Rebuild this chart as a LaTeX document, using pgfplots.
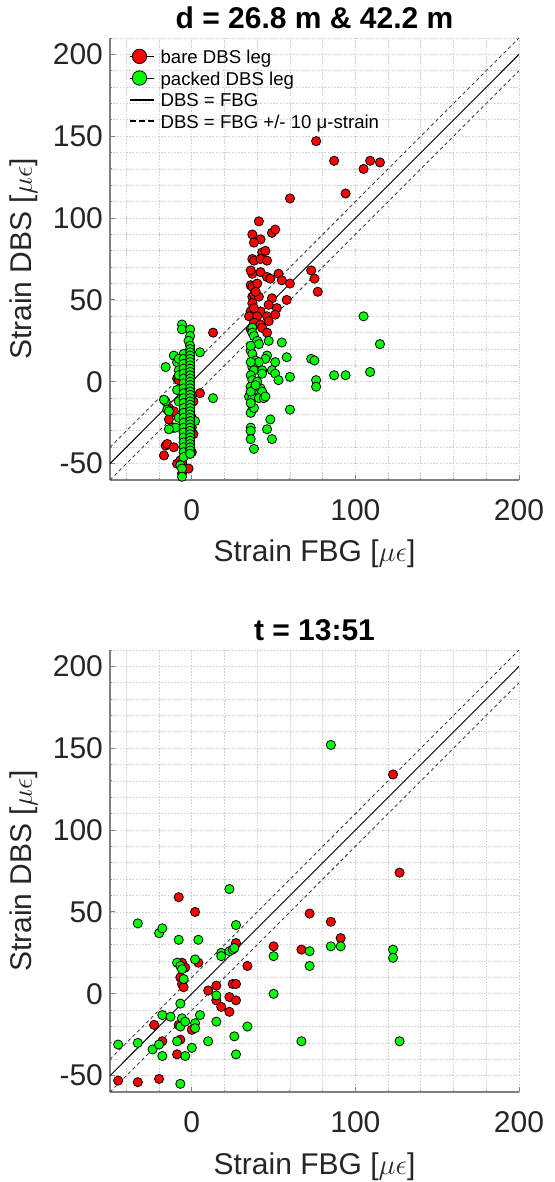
\documentclass[border=0pt]{standalone}
\usepackage{fontspec}
\setmainfont{Liberation Sans}
\usepackage{pgfplots}
\pgfplotsset{compat=1.18}
\definecolor{mred}{rgb}{1,0,0}
\definecolor{mgreen}{rgb}{0,1,0}
\definecolor{axgray}{gray}{0.5}
\definecolor{txt}{gray}{0.15}

\pgfplotsset{
  strainax/.style={
    scale only axis, width=204.5pt, height=221pt,
    xmin=-50, xmax=200, ymin=-60, ymax=210,
    xtick={0,100,200}, ytick={-50,0,50,100,150,200},
    minor xtick={-40,-20,...,200}, minor ytick={-60,-50,...,210},
    grid=both,
    major grid style={gray!38, dash pattern=on 0.8pt off 0.8pt, line width=0.4pt},
    minor grid style={gray!38, dash pattern=on 0.8pt off 0.8pt, line width=0.4pt},
    axis x line*=bottom, axis y line*=left,
    axis line style={-, axgray, line width=0.6pt},
    tick align=inside, major tick length=2.5pt, minor tick length=1.2pt,
    tick style={axgray, line width=0.5pt},
    /pgf/number format/assume math mode=true,
    ticklabel style={font=\fontsize{15}{15}\selectfont, text=txt},
    xticklabel style={yshift=-6pt},
    label style={font=\fontsize{15}{15}\selectfont, text=txt},
    xlabel style={at={(axis description cs:0.5,-0.1855)}, anchor=base},
    ylabel style={at={(axis description cs:-0.1907,0.5)}, anchor=base},
    every axis title shift=0pt,
    title style={at={(axis description cs:0.5,1)}, anchor=base, yshift=4.7pt,
      font=\bfseries\fontsize{15}{15}\selectfont},
    xlabel={Strain FBG [$\mu\epsilon$]},
    ylabel={Strain DBS [$\mu\epsilon$]},
  },
  bare/.style={only marks, mark=*, mark size=2.3pt, draw=black, fill=mred, line width=0.4pt, forget plot},
  packed/.style={only marks, mark=*, mark size=2.3pt, draw=black, fill=mgreen, line width=0.4pt, forget plot},
  oneone/.style={black, line width=0.45pt, forget plot},
  tenband/.style={black!75, line width=0.45pt, dash pattern=on 1.7pt off 1.5pt, forget plot},
  legmark/.style={legend image code/.code={\path (0pt,0pt) -- (12pt,0pt); \draw[##1] plot coordinates {(5pt,0pt)};}},
  legline/.style={legend image code/.code={\draw[##1] (0pt,0pt) -- (12pt,0pt);}},
}

\begin{document}
\begin{tikzpicture}
\useasboundingbox (0,0) rectangle (277.5pt,-591pt);

% ---- top: both depths ----
\begin{axis}[strainax, at={(55pt,-240pt)}, anchor=south west,
  title={d = 26.8 m \& 42.2 m},
  legend style={at={(axis description cs:0,1)}, anchor=north west,
    draw=none, fill=none, inner xsep=0pt, inner ysep=0pt,
    xshift=9pt, yshift=-4.1pt, row sep=1pt,
    font=\fontsize{9.3}{10}\selectfont,
    nodes={inner sep=0pt, text height=8.5pt, text depth=1.3pt},
    /tikz/every odd column/.append style={column sep=3pt}},
  legend cell align=left,
]
\addplot[bare] coordinates {
  (13,30)(5,-7)(-16,-39)(-15,-38)(-11,-40)(-17,-45)(-9,-50)(-6,-49)(-6,-56)
  (-1,-42)(-14,-16)(-14,-23)(-1,-19)(0,-22)(-9,2)(-8,1)(1,-32)(-1,-38)
  (0,-43)(-1,-44)(-7,-48)(-6,-50)(-11,-18)(-5,-10)(-2,-5)(0,-28)(-3,-35)
  (1,-12)(-4,-25)(-2,-53)(-5,-20)(0,-8)
  (60,112)(41,98)(37,90)(42,87)(49,91)(51,93)(43,79)(45,80)(37,75)(38,74)
  (42,75)(46,74)(37,66)(42,67)(46,64)(48,63)(53,66)(55,62)(60,60)(36,59)
  (37,58)(40,60)(37,52)(38,53)(41,52)(49,51)(58,50)(37,48)(47,47)(52,45)
  (36,43)(37,41)(42,43)(51,41)(35,40)(40,40)(46,40)(47,37)(38,36)(42,35)
  (43,33)(46,30)(36,32)(38,45)(39,55)(36,68)(38,85)
  (76,147)(87,135)(105,130)(109,135)(115,134)(94,115)(73,68)(75,63)(77,55)
};
\addplot[packed] coordinates {
  (-6,35)(-6,32)(-1,32)(-1,28)(-2,25)(-1,22)(-11,16)(-5,17)(5,18)(-16,9)
  (-9,12)(-8,7)(13,-10)(-16,-12)(-15,-17)(-11,-28)(-12,-28)(-10,-28)(2,-24)
  (-7,-51)(-6,-53)(-6,-58)(-17,-11)(-14,-18)(-14,-29)
  (-8,14)(-8,4)(-3,10)(-3,-2)(-8,-12)(-3,-15)(-8,-22)(-3,-28)(-4,-33)(-9,-5)(-3,5)
  (-5,14)(-5,11)(-5,8)(-5,5)(-5,2)(-5,-1)(-5,-4)(-5,-7)(-5,-10)(-5,-13)(-5,-16)
  (-5,-19)(-5,-22)(-5,-25)(-5,-28)(-5,-31)(-5,-34)(-5,-37)(-5,-40)(-5,-43)(-5,-46)
  (-1,20)(-1,18)(-1,16)(-1,14)(-1,12)(-1,10)(-1,8)(-1,6)(-1,4)(-1,2)(-1,0)
  (-1,-2)(-1,-4)(-1,-6)(-1,-8)(-1,-10)(-1,-12)(-1,-14)(-1,-16)(-1,-18)(-1,-20)
  (-1,-22)(-1,-24)(-1,-26)(-1,-28)(-1,-30)(-1,-32)(-1,-34)(-1,-36)(-1,-38)
  (-1,-40)(-1,-42)(-1,-44)
  (37,33)(37,30)(38,28)(40,25)(41,23)(47,25)(55,24)(36,19)(37,17)(46,16)
  (45,14)(39,13)(41,12)(51,12)(58,15)(37,9)(38,7)(43,7)(49,7)(51,5)(53,1)
  (36,4)(37,1)(43,5)(60,3)(36,-3)(38,-5)(42,-4)(43,-6)(35,-9)(37,-10)(41,-10)
  (44,-10)(45,-9)(37,-17)(36,-19)(38,-16)(60,-17)(48,-23)(36,-28)(36,-30)
  (46,-29)(36,-35)(49,-35)(38,-41)(36,22)(36,12)(36,-6)(36,-13)(40,0)(39,-2)
  (105,40)(115,23)(109,6)(73,14)(75,13)(87,4)(94,4)(76,1)(76,-3)
};
\addplot[oneone] coordinates {(-50,-50)(200,200)};
\addplot[tenband] coordinates {(-50,-40)(200,210)};
\addplot[tenband] coordinates {(-50,-60)(200,190)};
% legend entries
\addlegendimage{only marks, mark=*, mark size=3.6pt, draw=black, fill=mred, line width=0.4pt, legmark}
\addlegendentry{bare DBS leg}
\addlegendimage{only marks, mark=*, mark size=3.6pt, draw=black, fill=mgreen, line width=0.4pt, legmark}
\addlegendentry{packed DBS leg}
\addlegendimage{black, line width=1.1pt, legline}
\addlegendentry{DBS = FBG}
\addlegendimage{black, line width=1.1pt, dash pattern=on 3pt off 1.5pt, legline}
\addlegendentry{DBS = FBG +/- 10 μ-strain}
\end{axis}

% ---- bottom: one time step ----
\begin{axis}[strainax, at={(55pt,-546pt)}, anchor=south west,
  title={t = 13:51},
]
\addplot[bare] coordinates {
  (-8,59)(2,50)(27,31)(50,29)(67,27)(-6,19)(-4,16)(4,19)(34,17)(-7,10)(-6,6)
  (-5,4)(10,2)(15,5)(25,6)(27,6)(15,-4)(18,-8)(23,-11)(23,-2)(27,-4)(-23,-19)
  (-8,-19)(0,-22)(-18,-29)(-7,-28)(-9,-37)(-45,-53)(-33,-54)(-20,-52)
  (123,134)(127,74)(72,49)(85,44)(91,34)
};
\addplot[packed] coordinates {
  (23,64)(-33,43)(-20,37)(-18,40)(-8,33)(4,33)(27,42)(18,25)(18,23)(23,26)
  (25,27)(26,28)(50,23)(-9,19)(-7,17)(-6,15)(2,21)(-5,9)(15,-1)(50,0)(-7,-6)
  (-18,-13)(-13,-14)(-6,-15)(-7,-20)(-4,-17)(5,-13)(2,-18)(2,-21)(15,-17)
  (34,-20)(26,-26)(10,-29)(-9,-29)(0,-33)(27,-37)(-45,-31)(-33,-30)(-24,-34)
  (-20,-31)(-18,-38)(-4,-38)(-7,-55)(67,-29)(85,152)(72,26)(72,17)(85,29)
  (91,29)(123,27)(123,22)(127,-29)
};
\addplot[oneone] coordinates {(-50,-50)(200,200)};
\addplot[tenband] coordinates {(-50,-40)(200,210)};
\addplot[tenband] coordinates {(-50,-60)(200,190)};
\end{axis}
\end{tikzpicture}
\end{document}
